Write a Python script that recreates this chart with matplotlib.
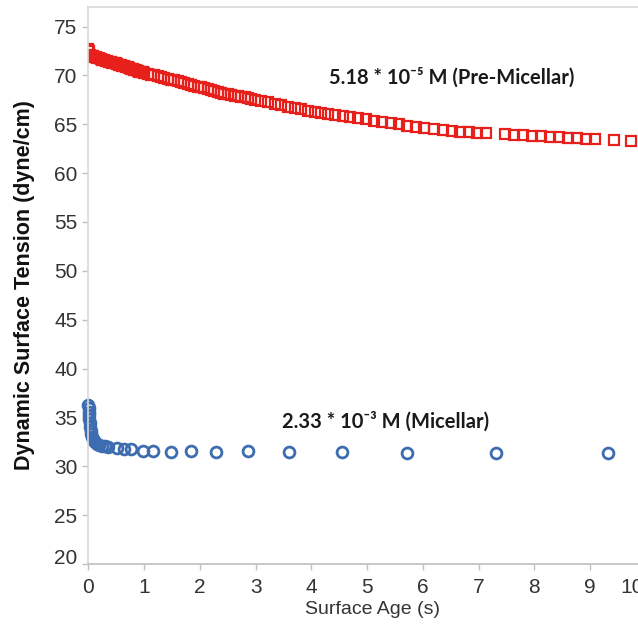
import matplotlib
matplotlib.use("Agg")
import matplotlib.pyplot as plt
import matplotlib.transforms as mtransforms

plt.rcParams['font.family'] = ['Liberation Sans', 'DejaVu Sans']

# Pre-micellar (red squares)
pre_age = [0.00, 0.01, 0.02, 0.04, 0.06, 0.08, 0.10, 0.13, 0.16, 0.19, 0.22, 0.25,
           0.28, 0.31, 0.34, 0.37, 0.40, 0.43, 0.46, 0.49, 0.52, 0.55, 0.58, 0.61,
           0.64, 0.67, 0.70, 0.73, 0.76, 0.79, 0.82, 0.85, 0.88, 0.91, 0.94, 0.97,
           1.00, 1.06, 1.12, 1.18, 1.24, 1.30, 1.36, 1.42, 1.48, 1.54, 1.60, 1.66,
           1.72, 1.78, 1.84, 1.90, 1.96, 2.02, 2.08, 2.14, 2.20, 2.26, 2.32, 2.38,
           2.44, 2.50, 2.56, 2.62, 2.68, 2.74, 2.80, 2.86, 2.92, 2.98, 3.10, 3.22,
           3.34, 3.46, 3.58, 3.70, 3.82, 3.94, 4.06, 4.18, 4.30, 4.42, 4.56, 4.70,
           4.84, 4.98, 5.12, 5.27, 5.42, 5.57, 5.72, 5.87, 6.02, 6.20, 6.36, 6.52,
           6.67, 6.83, 6.98, 7.14, 7.48, 7.64, 7.80, 7.96, 8.12, 8.28, 8.44, 8.60,
           8.76, 8.92, 9.08, 9.43, 9.74]
pre_st = [72.7, 72.5, 72.1, 72.0, 71.97, 71.94, 71.9, 71.85, 71.8, 71.74, 71.68, 71.62,
          71.57, 71.52, 71.47, 71.42, 71.37, 71.32, 71.27, 71.22, 71.16, 71.1, 71.05, 70.99,
          70.93, 70.87, 70.81, 70.75, 70.69, 70.63, 70.57, 70.51, 70.45, 70.39, 70.34, 70.3,
          70.25, 70.17, 70.08, 70.0, 69.91, 69.83, 69.75, 69.66, 69.58, 69.5, 69.41, 69.33,
          69.24, 69.15, 69.06, 68.96, 68.86, 68.77, 68.67, 68.58, 68.48, 68.39, 68.3, 68.22,
          68.13, 68.05, 67.99, 67.93, 67.87, 67.81, 67.74, 67.67, 67.6, 67.52, 67.38, 67.24,
          67.09, 66.95, 66.8, 66.66, 66.52, 66.37, 66.24, 66.12, 66.01, 65.91, 65.82, 65.73,
          65.63, 65.52, 65.38, 65.23, 65.11, 64.99, 64.87, 64.75, 64.63, 64.49, 64.39, 64.29,
          64.23, 64.17, 64.11, 64.06, 63.96, 63.91, 63.86, 63.81, 63.76, 63.71, 63.67, 63.62,
          63.57, 63.52, 63.47, 63.35, 63.25]

# Micellar (blue circles)
mic_age = [0.00, 0.003, 0.006, 0.01, 0.015, 0.02, 0.03, 0.04, 0.05, 0.065, 0.08, 0.10,
           0.12, 0.15, 0.19, 0.24, 0.29, 0.35, 0.51, 0.64, 0.76, 0.98, 1.16, 1.48,
           1.84, 2.29, 2.86, 3.60, 4.55, 5.72, 7.32, 9.33]
mic_st = [36.3, 36.0, 35.6, 35.2, 34.8, 34.4, 34.0, 33.6, 33.3, 33.0, 32.8, 32.6,
          32.45, 32.3, 32.2, 32.1, 32.05, 32.0, 31.9, 31.8, 31.75, 31.6, 31.6, 31.5,
          31.6, 31.45, 31.6, 31.5, 31.45, 31.4, 31.35, 31.4]

x_ticks = list(range(0, 11))
y_ticks = list(range(20, 80, 5))

fig = plt.figure(figsize=(6.38, 6.25), dpi=100)
# axes runs past the right edge of the figure, like the cropped original
ax = fig.add_axes([0.1387, 0.0976, 0.891, 0.8912])
ax.set_xlim(0, 10.2)
ax.set_ylim(20, 77)

ax.plot(pre_age, pre_st, linestyle='none', marker='s', markersize=7.2,
        markerfacecolor='none', markeredgecolor='#e8201c', markeredgewidth=1.6)
ax.plot(mic_age, mic_st, linestyle='none', marker='o', markersize=7.8,
        markerfacecolor='none', markeredgecolor='#3d6cb0', markeredgewidth=2.0,
        clip_on=False)

ax.set_xticks(x_ticks)
ax.set_yticks(y_ticks)
ax.tick_params(axis='both', direction='out', length=4, width=1, color='#bfbfbf',
               labelsize=15, labelcolor='#333333', pad=4)
ax.tick_params(axis='x', pad=6)

for side in ['top', 'left']:
    ax.spines[side].set_color('#d9d9d9')
ax.spines['bottom'].set_color('#bfbfbf')
ax.spines['right'].set_visible(False)
for s in ax.spines.values():
    s.set_linewidth(1.2)

# last x label sits a bit left, as in the original
lbl = ax.get_xticklabels()[-1]
lbl.set_transform(lbl.get_transform() + mtransforms.ScaledTranslation(-0.14, 0, fig.dpi_scale_trans))
# lowest y label sits a little above its tick
lbl = ax.get_yticklabels()[0]
lbl.set_transform(lbl.get_transform() + mtransforms.ScaledTranslation(0, 0.08, fig.dpi_scale_trans))

ax.set_xlabel('Surface Age (s)', fontsize=14, color='#333333', labelpad=3)
ax.set_ylabel('Dynamic Surface Tension (dyne/cm)', fontsize=15.5, fontweight='bold',
              color='#111111', labelpad=14)

ax.text(6.51, 69.8, '5.18 * 10\u207b\u2075 M (Pre-Micellar)', ha='center', va='center',
        fontsize=14.5, fontweight='bold', family=['Lato', 'DejaVu Sans'], color='#1a1a1a')
ax.text(5.33, 34.6, '2.33 * 10\u207b\u00b3 M (Micellar)', ha='center', va='center',
        fontsize=14.5, fontweight='bold', family=['Lato', 'DejaVu Sans'], color='#1a1a1a')

fig.savefig('out.png', dpi=100)
